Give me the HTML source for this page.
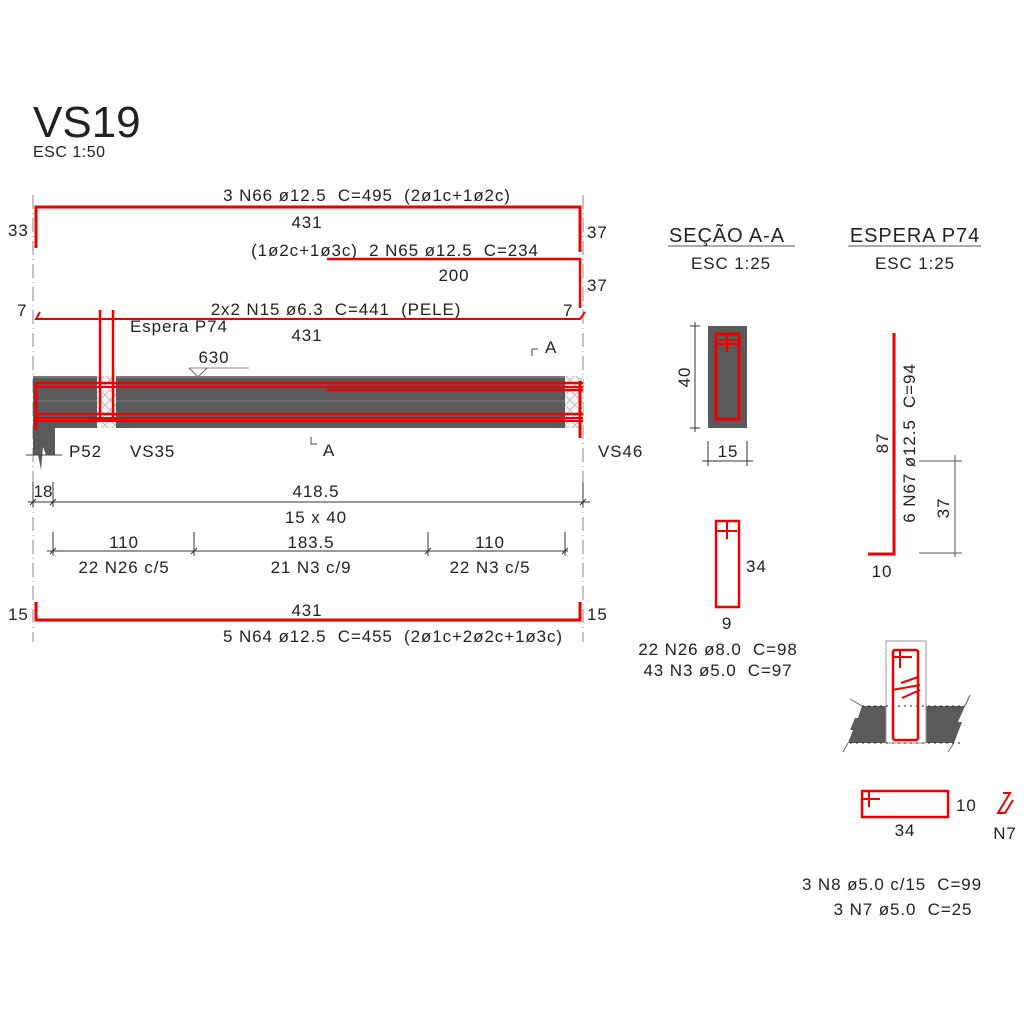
<!DOCTYPE html>
<html><head><meta charset="utf-8"><style>
html,body{margin:0;padding:0;background:#fff;}
svg{display:block;}
text{font-family:"Liberation Sans",sans-serif;fill:#222;white-space:pre;letter-spacing:0.9px;}
</style></head><body>
<svg width="1024" height="1024" viewBox="0 0 1024 1024" xmlns="http://www.w3.org/2000/svg" xml:space="preserve">
<defs>
<pattern id="hx" width="10" height="10" patternUnits="userSpaceOnUse">
<rect width="10" height="10" fill="#f2f2f2"/>
<path d="M0 0L10 10M10 0L0 10" stroke="#bbb" stroke-width="0.8"/>
</pattern>
</defs>
<text x="33" y="137" font-size="44" style="letter-spacing:0">VS19</text>
<text x="33" y="157" font-size="16" style="letter-spacing:0.5px">ESC 1:50</text>

<line x1="33" y1="195" x2="33" y2="642" stroke="#888" stroke-width="1" stroke-dasharray="14 4 1 4"/>
<line x1="583" y1="195" x2="583" y2="642" stroke="#888" stroke-width="1" stroke-dasharray="14 4 1 4"/>

<text x="367" y="201" font-size="17" text-anchor="middle">3 N66 ø12.5  C=495  (2ø1c+1ø2c)</text>
<polyline points="36,248 36,207 580,207 580,252" fill="none" stroke="#e00" stroke-width="3"/>
<text x="307" y="228" font-size="17" text-anchor="middle">431</text>
<text x="8" y="236" font-size="17">33</text>
<text x="587" y="238" font-size="17">37</text>
<text x="395" y="256" font-size="17" text-anchor="middle">(1ø2c+1ø3c)  2 N65 ø12.5  C=234</text>
<polyline points="327,259 580,259 580,308" fill="none" stroke="#e00" stroke-width="2.5"/>
<text x="454" y="281" font-size="17" text-anchor="middle">200</text>
<text x="587" y="291" font-size="17">37</text>
<text x="336" y="315" font-size="17" text-anchor="middle">2x2 N15 ø6.3  C=441  (PELE)</text>
<polyline points="40,312 36,319 580,319 585,312" fill="none" stroke="#e00" stroke-width="2"/>
<text x="17" y="316" font-size="17">7</text>
<text x="563" y="316" font-size="17">7</text>
<text x="130" y="332" font-size="17">Espera P74</text>
<text x="307" y="341" font-size="17" text-anchor="middle">431</text>
<text x="214" y="363" font-size="17" text-anchor="middle">630</text>
<polyline points="189,368 249,368" stroke="#888" stroke-width="1"/>
<polyline points="189,368 198,377 207,368" fill="none" stroke="#666" stroke-width="1"/>
<polyline points="532,356 532,349 538,349" fill="none" stroke="#444" stroke-width="1"/>
<text x="545" y="353" font-size="17">A</text>
<polyline points="311,437 311,444 317,444" fill="none" stroke="#444" stroke-width="1"/>
<text x="323" y="456" font-size="17">A</text>

<rect x="33" y="376" width="550" height="52" fill="#5a5a5a"/>
<line x1="33" y1="377" x2="583" y2="377" stroke="#999" stroke-width="1"/>
<line x1="33" y1="401" x2="583" y2="401" stroke="#888" stroke-width="0.7"/>
<rect x="97" y="376" width="19" height="52" fill="url(#hx)"/>
<rect x="565" y="376" width="18" height="52" fill="url(#hx)"/>
<path d="M33,428 L55,428 L55,455 L46,455 L43,447 L41,470 L38,455 L33,455 Z" fill="#5a5a5a"/>
<line x1="26" y1="455" x2="62" y2="455" stroke="#444" stroke-width="1"/>
<g stroke="#e00" fill="none">
<line x1="36" y1="383" x2="583" y2="383" stroke-width="2.5"/>
<line x1="36" y1="387" x2="583" y2="387" stroke-width="2"/>
<line x1="327" y1="390" x2="583" y2="390" stroke-width="2.5"/>
<line x1="36" y1="414" x2="583" y2="414" stroke-width="2.5"/>
<line x1="36" y1="418" x2="583" y2="418" stroke-width="2"/>
<line x1="36" y1="421" x2="583" y2="421" stroke-width="2"/>
<line x1="36" y1="383" x2="36" y2="430" stroke-width="3"/>
<line x1="580" y1="381" x2="580" y2="438" stroke-width="3"/>
<line x1="100" y1="310" x2="100" y2="421" stroke-width="2.5"/>
<line x1="113" y1="310" x2="113" y2="421" stroke-width="2.5"/>
<line x1="88" y1="420" x2="127" y2="420" stroke-width="3"/>
</g>
<text x="69" y="457" font-size="17">P52</text>
<text x="130" y="457" font-size="17">VS35</text>
<text x="598" y="457" font-size="17">VS46</text>

<g stroke="#333" stroke-width="1">
<line x1="28" y1="502" x2="590" y2="502"/>
<line x1="33" y1="482" x2="33" y2="507"/><line x1="53" y1="482" x2="53" y2="507"/><line x1="583" y1="482" x2="583" y2="507"/>
<line x1="30" y1="505" x2="36" y2="499"/><line x1="50" y1="505" x2="56" y2="499"/><line x1="580" y1="505" x2="586" y2="499"/>
<line x1="47" y1="551" x2="568" y2="551"/>
<line x1="53" y1="532" x2="53" y2="556"/><line x1="194" y1="532" x2="194" y2="556"/><line x1="428" y1="532" x2="428" y2="556"/><line x1="565" y1="532" x2="565" y2="556"/>
<line x1="50" y1="554" x2="56" y2="548"/><line x1="191" y1="554" x2="197" y2="548"/><line x1="425" y1="554" x2="431" y2="548"/><line x1="562" y1="554" x2="568" y2="548"/>
</g>
<text x="43" y="497" font-size="17" text-anchor="middle" style="letter-spacing:0">18</text>
<text x="316" y="497" font-size="17" text-anchor="middle">418.5</text>
<text x="316" y="523" font-size="17" text-anchor="middle">15 x 40</text>
<text x="124" y="548" font-size="17" text-anchor="middle">110</text>
<text x="311" y="548" font-size="17" text-anchor="middle">183.5</text>
<text x="490" y="548" font-size="17" text-anchor="middle">110</text>
<text x="124" y="573" font-size="17" text-anchor="middle">22 N26 c/5</text>
<text x="311" y="573" font-size="17" text-anchor="middle">21 N3 c/9</text>
<text x="490" y="573" font-size="17" text-anchor="middle">22 N3 c/5</text>

<polyline points="36,602 36,620 580,620 580,602" fill="none" stroke="#e00" stroke-width="3"/>
<text x="307" y="616" font-size="17" text-anchor="middle">431</text>
<text x="8" y="620" font-size="17">15</text>
<text x="587" y="620" font-size="17">15</text>
<text x="393" y="642" font-size="17" text-anchor="middle">5 N64 ø12.5  C=455  (2ø1c+2ø2c+1ø3c)</text>

<text x="727" y="242" font-size="20" text-anchor="middle">SEÇÃO A-A</text>
<line x1="668" y1="246" x2="795" y2="246" stroke="#555" stroke-width="1"/>
<text x="731" y="269" font-size="17" text-anchor="middle">ESC 1:25</text>
<rect x="708" y="326" width="39" height="102" fill="#5a5a5a"/>
<rect x="716" y="334" width="23" height="85" fill="none" stroke="#e00" stroke-width="3"/>
<line x1="716" y1="344" x2="739" y2="344" stroke="#e00" stroke-width="2"/>
<line x1="727" y1="334" x2="727" y2="352" stroke="#e00" stroke-width="2.5"/>
<line x1="719" y1="340" x2="740" y2="340" stroke="#e00" stroke-width="2"/>
<line x1="695" y1="322" x2="695" y2="432" stroke="#333" stroke-width="1"/>
<line x1="690" y1="326" x2="700" y2="326" stroke="#333"/><line x1="690" y1="428" x2="700" y2="428" stroke="#333"/>
<text transform="translate(690,377) rotate(-90)" font-size="17" text-anchor="middle">40</text>
<line x1="702" y1="461" x2="753" y2="461" stroke="#333"/>
<line x1="708" y1="441" x2="708" y2="466" stroke="#333"/><line x1="747" y1="441" x2="747" y2="466" stroke="#333"/>
<text x="728" y="457" font-size="17" text-anchor="middle">15</text>
<rect x="716" y="521" width="23" height="86" fill="none" stroke="#e00" stroke-width="2.5"/>
<line x1="716" y1="531" x2="737" y2="531" stroke="#e00" stroke-width="2"/>
<line x1="727" y1="521" x2="727" y2="539" stroke="#e00" stroke-width="2"/>
<text x="746" y="572" font-size="17">34</text>
<text x="727" y="629" font-size="17" text-anchor="middle">9</text>
<text x="718" y="655" font-size="17" text-anchor="middle">22 N26 ø8.0  C=98</text>
<text x="718" y="676" font-size="17" text-anchor="middle">43 N3 ø5.0  C=97</text>

<text x="915" y="242" font-size="20" text-anchor="middle">ESPERA P74</text>
<line x1="848" y1="246" x2="981" y2="246" stroke="#555" stroke-width="1"/>
<text x="915" y="269" font-size="17" text-anchor="middle">ESC 1:25</text>
<polyline points="894,333 894,554 868,554" fill="none" stroke="#e00" stroke-width="3"/>
<text transform="translate(888,443) rotate(-90)" font-size="17" text-anchor="middle">87</text>
<text transform="translate(915,443) rotate(-90)" font-size="17" text-anchor="middle">6 N67 ø12.5  C=94</text>
<g stroke="#555" stroke-width="1">
<line x1="955" y1="455" x2="955" y2="557"/>
<line x1="919" y1="461" x2="962" y2="461"/><line x1="919" y1="553" x2="962" y2="553"/>
</g>
<text transform="translate(949,508) rotate(-90)" font-size="17" text-anchor="middle">37</text>
<text x="882" y="577" font-size="17" text-anchor="middle">10</text>

<path d="M862,706 L965,706 L958,722 L962,722 L954,743 L848,743 L853,730 L850,730 L855,718 L858,718 Z" fill="#5a5a5a"/>
<line x1="850" y1="699" x2="862" y2="706" stroke="#666"/><line x1="965" y1="706" x2="970" y2="695" stroke="#666"/>
<line x1="843" y1="752" x2="848" y2="743" stroke="#666"/><line x1="954" y1="743" x2="948" y2="752" stroke="#666"/>
<rect x="886" y="641" width="40" height="102" fill="#fff" stroke="#999" stroke-width="1"/>
<line x1="862" y1="706" x2="965" y2="706" stroke="#222" stroke-dasharray="2 4"/>
<line x1="850" y1="743" x2="960" y2="743" stroke="#222" stroke-dasharray="2 4"/>
<rect x="893" y="650" width="25" height="90" rx="2" fill="none" stroke="#e00" stroke-width="2.5"/>
<line x1="893" y1="657" x2="912" y2="657" stroke="#e00" stroke-width="2"/>
<line x1="900" y1="651" x2="900" y2="668" stroke="#e00" stroke-width="2"/>
<line x1="892" y1="690" x2="920" y2="685" stroke="#e00" stroke-width="2"/>
<line x1="902" y1="698" x2="920" y2="690" stroke="#e00" stroke-width="2"/>
<line x1="901" y1="683" x2="918" y2="677" stroke="#e00" stroke-width="2"/>
<rect x="862" y="791" width="86" height="26" fill="none" stroke="#e00" stroke-width="2.5"/>
<line x1="862" y1="799" x2="880" y2="799" stroke="#e00" stroke-width="2"/>
<line x1="869" y1="791" x2="869" y2="807" stroke="#e00" stroke-width="2"/>
<text x="956" y="811" font-size="17">10</text>
<text x="905" y="836" font-size="17" text-anchor="middle">34</text>
<polyline points="1003,793 1010,793 998,813 1005,813 1013,800" fill="none" stroke="#e00" stroke-width="2"/>
<text x="1005" y="839" font-size="17" text-anchor="middle">N7</text>
<text x="892" y="890" font-size="17" text-anchor="middle">3 N8 ø5.0 c/15  C=99</text>
<text x="903" y="915" font-size="17" text-anchor="middle">3 N7 ø5.0  C=25</text>
</svg>
</body></html>
